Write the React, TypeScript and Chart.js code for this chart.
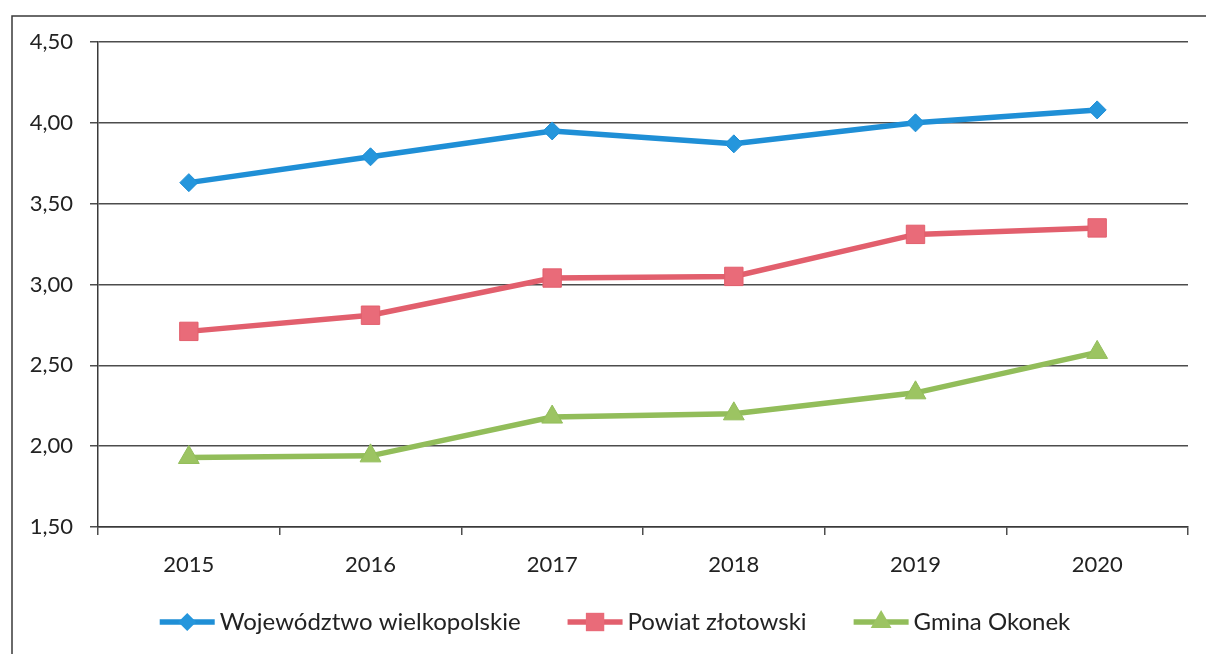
import React, { useEffect, useRef } from "react";
import { Chart, registerables } from "chart.js";

Chart.register(...registerables);

const years = ["2015", "2016", "2017", "2018", "2019", "2020"];
const wojewodztwo = [3.63, 3.79, 3.95, 3.87, 4.0, 4.08];
const powiat = [2.71, 2.81, 3.04, 3.05, 3.31, 3.35];
const gmina = [1.93, 1.94, 2.18, 2.2, 2.33, 2.58];
const seriesNames = ["Województwo wielkopolskie", "Powiat złotowski", "Gmina Okonek"];
const yMin = 1.5;
const yMax = 4.5;
const yStep = 0.5;

const FONT = "Lato, 'Open Sans', sans-serif";
const TEXT = "#222222";
const GRID = "#4d4d4d";

const colors = ["#1f8fd6", "#e25f6d", "#92bd5a"];
const markerFill = ["#2596dc", "#e96b79", "#9cc462"];
const markerStyles = ["rectRot", "rect", "triangle"];
const markerRadius = [9, 13, 12];

function drawMarker(ctx: CanvasRenderingContext2D, style: string, x: number, y: number, r: number) {
  ctx.beginPath();
  if (style === "rectRot") {
    ctx.moveTo(x, y - r);
    ctx.lineTo(x + r, y);
    ctx.lineTo(x, y + r);
    ctx.lineTo(x - r, y);
  } else if (style === "rect") {
    const s = r * Math.SQRT1_2;
    ctx.rect(x - s, y - s, 2 * s, 2 * s);
  } else {
    ctx.moveTo(x, y - r);
    ctx.lineTo(x + (r * Math.sqrt(3)) / 2, y + r / 2);
    ctx.lineTo(x - (r * Math.sqrt(3)) / 2, y + r / 2);
  }
  ctx.closePath();
  ctx.fill();
}

const frameAndLegend = {
  id: "frameAndLegend",
  beforeDraw(chart: any) {
    const ctx = chart.ctx as CanvasRenderingContext2D;
    ctx.save();
    ctx.fillStyle = "#ffffff";
    ctx.fillRect(0, 0, chart.width, chart.height);
    ctx.strokeStyle = "#3a3a3a";
    ctx.lineWidth = 1.5;
    ctx.beginPath();
    ctx.moveTo(12, chart.height);
    ctx.lineTo(12, 16);
    ctx.lineTo(chart.width, 16);
    ctx.stroke();
    ctx.restore();
  },
  afterDraw(chart: any) {
    const ctx = chart.ctx as CanvasRenderingContext2D;
    ctx.save();
    ctx.font = `24px ${FONT}`;
    const lineLen = 55;
    const textGap = 5;
    const itemGap = 47;
    const widths = chart.data.datasets.map((d: any) => ctx.measureText(d.label).width);
    const total = widths.reduce((a: number, b: number) => a + b, 0) + 3 * (lineLen + textGap) + 2 * itemGap;
    let x = chart.width / 2 + 12 - total / 2;
    const y = 622;
    chart.data.datasets.forEach((d: any, i: number) => {
      ctx.strokeStyle = colors[i];
      ctx.lineWidth = 5.5;
      ctx.beginPath();
      ctx.moveTo(x, y);
      ctx.lineTo(x + lineLen, y);
      ctx.stroke();
      ctx.fillStyle = markerFill[i];
      drawMarker(ctx, markerStyles[i], x + lineLen / 2, y, markerRadius[i]);
      ctx.fillStyle = TEXT;
      ctx.textBaseline = "middle";
      ctx.textAlign = "left";
      ctx.fillText(d.label, x + lineLen + textGap, y);
      x += lineLen + textGap + widths[i] + itemGap;
    });
    ctx.restore();
  },
};

export default function App() {
  const ref = useRef<HTMLCanvasElement | null>(null);
  useEffect(() => {
    if (!ref.current) return;
    const series = [wojewodztwo, powiat, gmina];
    const chart = new Chart(ref.current, {
      type: "line",
      data: {
        labels: years,
        datasets: series.map((data, i) => ({
          label: seriesNames[i],
          data,
          borderColor: colors[i],
          borderWidth: 5.5,
          tension: 0,
          pointStyle: markerStyles[i] as any,
          pointRadius: markerRadius[i],
          pointHoverRadius: markerRadius[i],
          pointBackgroundColor: markerFill[i],
          pointBorderColor: colors[i],
          pointBorderWidth: 1,
        })),
      },
      options: {
        animation: false,
        responsive: true,
        maintainAspectRatio: false,
        layout: { padding: { top: 42, right: 18, bottom: 0, left: 0 } },
        plugins: { legend: { display: false }, tooltip: { enabled: false } },
        scales: {
          x: {
            type: "category",
            offset: true,
            afterFit: (s: any) => {
              s.height = 127;
            },
            grid: {
              display: true,
              drawOnChartArea: false,
              drawTicks: true,
              tickLength: 8,
              offset: true,
              color: GRID,
              lineWidth: 1.5,
            },
            border: { display: true, color: "#3a3a3a", width: 1.5 },
            ticks: { color: TEXT, font: { family: FONT, size: 22 }, padding: 17, maxRotation: 0 },
          },
          y: {
            min: yMin,
            max: yMax,
            afterFit: (s: any) => {
              s.width = 98;
            },
            grid: { color: GRID, lineWidth: 1.5, tickLength: 8, drawTicks: true },
            border: { display: true, color: "#3a3a3a", width: 1.5 },
            ticks: {
              stepSize: yStep,
              color: TEXT,
              padding: 17,
              font: { family: FONT, size: 22 },
              callback: (v: any) => Number(v).toFixed(2).replace(".", ","),
            },
          },
        },
      },
      plugins: [frameAndLegend],
    });
    return () => chart.destroy();
  }, []);
  return (
    <div style={{ position: "fixed", left: 0, top: 0, width: 1206, height: 654, background: "#fff" }}>
      <canvas ref={ref} />
    </div>
  );
}
